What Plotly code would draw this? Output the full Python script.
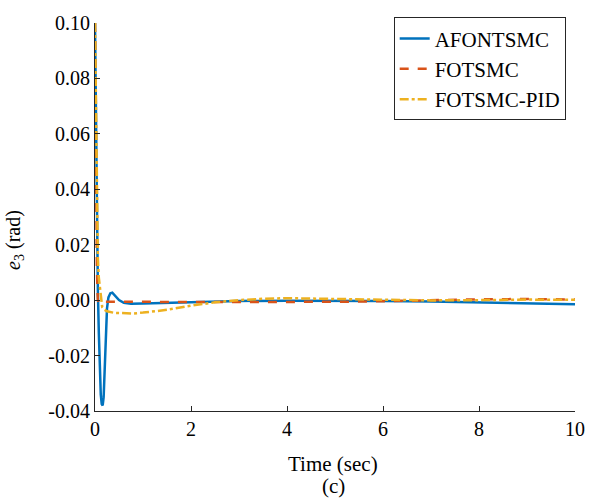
import plotly.graph_objects as go

# ---- data ----
t_afontsmc = [0, 0.01, 0.02, 0.03, 0.04, 0.05, 0.06, 0.08, 0.10, 0.12, 0.14, 0.16, 0.18, 0.20,
              0.22, 0.25, 0.28, 0.32, 0.36, 0.42, 0.50, 0.60, 0.75, 1.0, 1.5, 2.0, 2.5, 3.0,
              4.0, 5.0, 6.0, 7.0, 8.0, 9.0, 10.0]
e_afontsmc = [0.100, 0.080, 0.060, 0.045, 0.030, 0.015, 0.003, -0.012, -0.025, -0.034, -0.0375,
              -0.038, -0.035, -0.025, -0.013, -0.003, 0.001, 0.0025, 0.0027, 0.0015, 0.0, -0.001,
              -0.0013, -0.0012, -0.001, -0.0008, -0.0005, -0.0003, -0.0002, -0.0002, -0.0003,
              -0.0005, -0.0008, -0.0011, -0.0015]

t_fotsmc = [0, 0.01, 0.02, 0.03, 0.04, 0.05, 0.06, 0.08, 0.10, 0.20, 0.50, 1.0, 2.0, 3.0, 4.0,
            5.0, 6.0, 7.0, 8.0, 9.0, 10.0]
e_fotsmc = [0.100, 0.070, 0.045, 0.025, 0.012, 0.004, 0.0, -0.0012, -0.0012, -0.0006, -0.0005,
            -0.0006, -0.0007, -0.0007, -0.0007, -0.0006, -0.0004, 0.0, 0.0003, 0.0004, 0.0002]

t_pid = [0, 0.01, 0.02, 0.03, 0.04, 0.05, 0.06, 0.08, 0.10, 0.12, 0.15, 0.20, 0.25, 0.40, 0.60,
         0.80, 1.0, 1.5, 2.0, 2.5, 3.0, 3.5, 4.0, 4.5, 5.0, 6.0, 7.0, 8.0, 9.0, 10.0]
e_pid = [0.100, 0.085, 0.065, 0.048, 0.034, 0.023, 0.015, 0.008, 0.005, 0.0, -0.0025, -0.0035,
         -0.0040, -0.0046, -0.0048, -0.0048, -0.0045, -0.0035, -0.0020, -0.0008, 0.0, 0.0005,
         0.0007, 0.0006, 0.0004, 0.0001, -0.0001, 0.0, 0.0002, 0.0001]

series_names = ["AFONTSMC", "FOTSMC", "FOTSMC-PID"]
x_tickvals = [0, 2, 4, 6, 8, 10]
y_tickvals = [-0.04, -0.02, 0.0, 0.02, 0.04, 0.06, 0.08, 0.10]
y_ticktext = ["-0.04", "-0.02", "0.00", "0.02", "0.04", "0.06", "0.08", "0.10"]

FONT = "Liberation Serif"
AX = "#262626"

fig = go.Figure()
fig.add_trace(go.Scatter(x=t_afontsmc, y=e_afontsmc, mode="lines", name=series_names[0],
                         line=dict(color="#0072BD", width=2.5)))
fig.add_trace(go.Scatter(x=t_fotsmc, y=e_fotsmc, mode="lines", name=series_names[1],
                         line=dict(color="#D95319", width=2.5, dash="dash")))
fig.add_trace(go.Scatter(x=t_pid, y=e_pid, mode="lines", name=series_names[2],
                         line=dict(color="#EDB120", width=2.5, dash="dashdot")))

fig.update_layout(
    width=605, height=502,
    margin=dict(l=95, r=30, t=15.7, b=90.5),
    paper_bgcolor="white", plot_bgcolor="white",
    font=dict(family=FONT, size=20, color="#000000"),
    showlegend=True,
    legend=dict(x=0.9806, y=1.0144, xanchor="right", yanchor="top",
                bgcolor="white", bordercolor=AX, borderwidth=1,
                font=dict(family=FONT, size=21, color="#000000"),
                tracegroupgap=0, itemwidth=30),
    xaxis=dict(range=[0, 10], tickvals=x_tickvals, ticks="inside", ticklen=5,
               tickcolor=AX, showline=True, linecolor=AX, linewidth=1,
               showgrid=False, zeroline=False, mirror=False,
               tickfont=dict(family=FONT, size=20)),
    yaxis=dict(range=[-0.04, 0.10], tickvals=y_tickvals, ticktext=y_ticktext,
               ticks="inside", ticklen=5, tickcolor=AX, showline=True, linecolor=AX,
               linewidth=1, showgrid=False, zeroline=False, mirror=False,
               tickfont=dict(family=FONT, size=20)),
    annotations=[
        dict(text="Time (sec)", xref="paper", yref="paper", x=0.496, y=-0.1377,
             xanchor="center", yanchor="middle", showarrow=False,
             font=dict(family=FONT, size=21)),
        dict(text="(c)", xref="paper", yref="paper", x=0.496, y=-0.1933,
             xanchor="center", yanchor="middle", showarrow=False,
             font=dict(family=FONT, size=21)),
        dict(text="<i>e</i><sub>3</sub> (rad)", xref="paper", yref="paper",
             x=-0.1667, y=0.441, xanchor="center", yanchor="middle", textangle=-90,
             showarrow=False, font=dict(family=FONT, size=20)),
    ],
)

fig.write_html("out.html")
